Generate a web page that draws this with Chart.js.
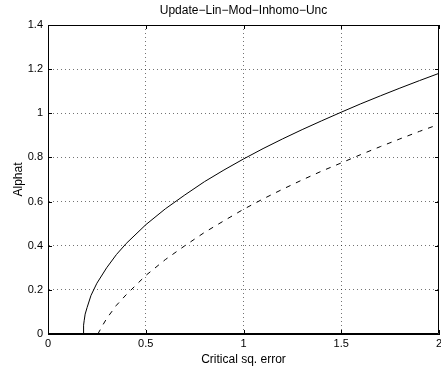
<!DOCTYPE html>
<html>
<head>
<meta charset="utf-8">
<script src="https://cdn.jsdelivr.net/npm/chart.js@4.4.0/dist/chart.umd.min.js"></script>
<style>
  body { margin: 0; background: #fff; }
  canvas { display: block; }
</style>
</head>
<body>
<canvas id="myChart" width="441" height="368"></canvas>
<script>
// values
let solid_x = [0.18, 0.182, 0.185, 0.19, 0.2, 0.22, 0.25, 0.3, 0.35, 0.4, 0.5, 0.6, 0.7, 0.8, 0.9, 1.0, 1.1, 1.2, 1.3, 1.4, 1.5, 1.6, 1.7, 1.8, 1.9, 2.0];
let solid_y = [0, 0.04, 0.06, 0.09, 0.12, 0.175, 0.23, 0.30, 0.36, 0.41, 0.495, 0.567, 0.63, 0.69, 0.743, 0.793, 0.84, 0.884, 0.926, 0.966, 1.005, 1.043, 1.079, 1.114, 1.148, 1.181];
let dashed_x = [0.255, 0.28, 0.3, 0.35, 0.4, 0.5, 0.6, 0.7, 0.8, 0.9, 1.0, 1.1, 1.2, 1.3, 1.4, 1.5, 1.6, 1.7, 1.8, 1.9, 2.0];
let dashed_y = [0, 0.04, 0.07, 0.13, 0.178, 0.265, 0.337, 0.40, 0.46, 0.513, 0.565, 0.612, 0.656, 0.698, 0.738, 0.775, 0.813, 0.849, 0.884, 0.918, 0.95];

let x_ticks = [0, 0.5, 1, 1.5, 2];
let x_tick_labels = ['0', '0.5', '1', '1.5', '2'];
let y_ticks = [0, 0.2, 0.4, 0.6, 0.8, 1, 1.2, 1.4];
let y_tick_labels = ['0', '0.2', '0.4', '0.6', '0.8', '1', '1.2', '1.4'];

let chart_title = 'Update\u2212Lin\u2212Mod\u2212Inhomo\u2212Unc';
let x_title = 'Critical sq. error';
let y_title = 'Alphat';

function toPoints(xs, ys) {
    return xs.map(function (x, i) { return { x: x, y: ys[i] }; });
}

function tickLabel(ticks, labels, v) {
    for (var i = 0; i < ticks.length; i++) {
        if (Math.abs(ticks[i] - v) < 1e-6) return labels[i];
    }
    return '';
}

Chart.defaults.font.family = '"Liberation Sans", Arial, sans-serif';
Chart.defaults.font.size = 11;
Chart.defaults.color = '#000';

var gridColor = 'rgba(0,0,0,0.55)';

// box round the plot and inward tick marks, like the matlab figure
var boxPlugin = {
    id: 'box',
    afterLayout: function (chart) {
        // center the title over the plot area, not the whole canvas
        if (chart.titleBlock) {
            chart.titleBlock.left = chart.chartArea.left;
            chart.titleBlock.right = chart.chartArea.right;
        }
    },
    afterDraw: function (chart) {
        var ctx = chart.ctx;
        var a = chart.chartArea;
        var xs = chart.scales.x, ys = chart.scales.y;
        var len = 4;
        ctx.save();
        ctx.strokeStyle = '#000';
        ctx.lineWidth = 1;
        ctx.beginPath();
        ctx.rect(Math.round(a.left) + 0.5, Math.round(a.top) + 0.5, Math.round(a.right - a.left) - 1, Math.round(a.bottom - a.top) - 1);
        x_ticks.forEach(function (t) {
            var px = Math.round(xs.getPixelForValue(t)) + 0.5;
            ctx.moveTo(px, a.bottom); ctx.lineTo(px, a.bottom - len);
            ctx.moveTo(px, a.top); ctx.lineTo(px, a.top + len);
        });
        y_ticks.forEach(function (t) {
            var py = Math.round(ys.getPixelForValue(t)) + 0.5;
            ctx.moveTo(a.left, py); ctx.lineTo(a.left + len, py);
            ctx.moveTo(a.right, py); ctx.lineTo(a.right - len, py);
        });
        ctx.stroke();
        ctx.restore();
    }
};

var ctx = document.getElementById('myChart').getContext('2d');
var myChart = new Chart(ctx, {
    type: 'scatter',
    data: {
        datasets: [{
            label: 'solid',
            data: toPoints(solid_x, solid_y),
            showLine: true,
            borderColor: '#000',
            borderWidth: 1,
            pointRadius: 0,
            tension: 0
        }, {
            label: 'dashed',
            data: toPoints(dashed_x, dashed_y),
            showLine: true,
            borderColor: '#000',
            borderWidth: 1,
            borderDash: [5, 6],
            pointRadius: 0,
            tension: 0
        }]
    },
    options: {
        responsive: false,
        animation: false,
        layout: { padding: 0 },
        plugins: {
            legend: { display: false },
            tooltip: { enabled: false },
            title: {
                display: true,
                text: chart_title,
                font: { size: 12, weight: 'normal' },
                padding: { top: 3, bottom: 7.6 }
            }
        },
        scales: {
            x: {
                type: 'linear',
                min: 0,
                max: 2,
                afterFit: function (s) { s.height = 34; s.paddingRight = 2; s.paddingLeft = 0; },
                afterBuildTicks: function (s) { s.ticks = x_ticks.map(function (v) { return { value: v }; }); },
                ticks: {
                    padding: 3,
                    maxRotation: 0,
                    callback: function (v) { return tickLabel(x_ticks, x_tick_labels, v); }
                },
                grid: {
                    drawTicks: false,
                    color: function (c) { return (c.tick && (c.tick.value === 0 || c.tick.value === 2)) ? 'rgba(0,0,0,0)' : gridColor; }
                },
                border: { display: true, color: '#000', width: 1, dash: [1, 3] },
                title: { display: true, text: x_title, font: { size: 12 }, padding: { top: 2, bottom: 1 } }
            },
            y: {
                type: 'linear',
                min: 0,
                max: 1.4,
                afterFit: function (s) { s.width = 48; },
                afterBuildTicks: function (s) { s.ticks = y_ticks.map(function (v) { return { value: v }; }); },
                ticks: {
                    padding: 5,
                    callback: function (v) { return tickLabel(y_ticks, y_tick_labels, v); }
                },
                grid: {
                    drawTicks: false,
                    color: function (c) { return (c.tick && (c.tick.value === 0 || Math.abs(c.tick.value - 1.4) < 1e-6)) ? 'rgba(0,0,0,0)' : gridColor; }
                },
                border: { display: true, color: '#000', width: 1, dash: [1, 3] },
                title: { display: true, text: y_title, font: { size: 12 }, padding: { top: 11, bottom: 2 } }
            }
        }
    },
    plugins: [boxPlugin]
});
</script>
</body>
</html>
